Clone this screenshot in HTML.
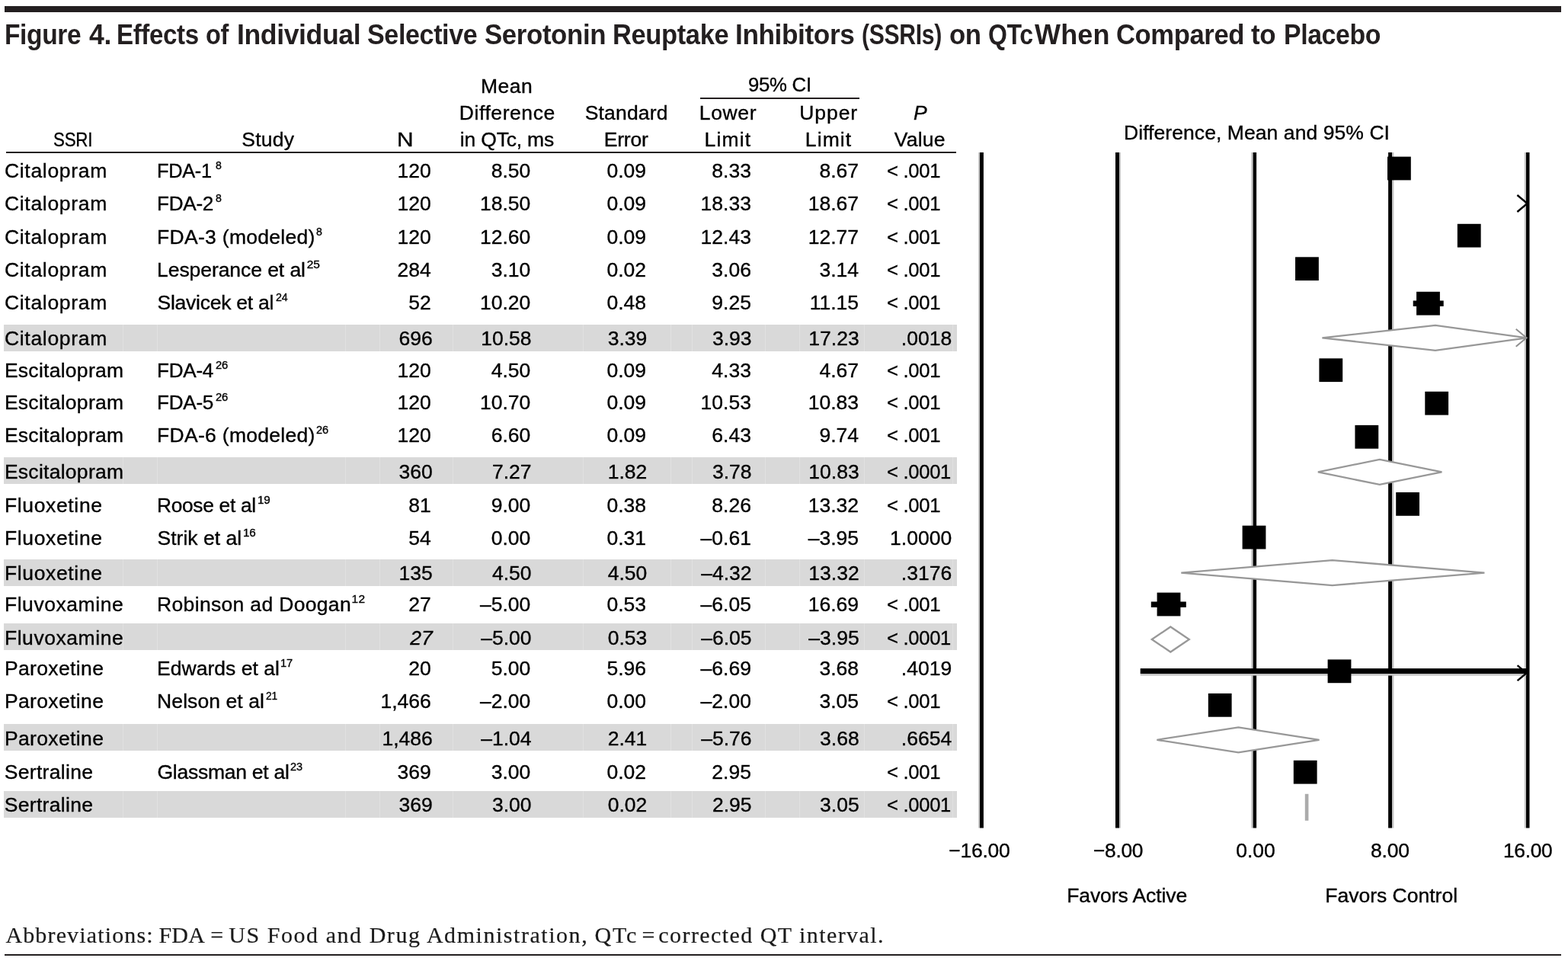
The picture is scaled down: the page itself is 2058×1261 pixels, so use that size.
<!DOCTYPE html>
<html lang="en"><head><meta charset="utf-8"><title>Figure 4</title>
<style>
html,body{margin:0;padding:0;background:#fff}
body{width:2058px;height:1261px;position:relative;overflow:hidden;font-family:"Liberation Sans",sans-serif;color:#000}
.t{position:absolute;white-space:nowrap;line-height:1;transform-origin:0 0;font-size:26.5px;-webkit-text-stroke:0.35px #000}
h1{margin:0;font-size:inherit;font-weight:inherit}
.b{font-weight:700;-webkit-text-stroke:0;color:#231f20}
.i{font-style:italic}
.f{font-family:"Liberation Serif",serif;color:#1a1a1a;-webkit-text-stroke:0.2px #1a1a1a}
.r{position:absolute}
.plot{position:absolute;left:0;top:0}
</style></head>
<body>
<svg class="plot" width="2058" height="1261" viewBox="0 0 2058 1261">
<rect x="1284.10" y="200.0" width="1.90" height="886.5" fill="#c4c4c4"/>
<rect x="1286.00" y="200.0" width="4.90" height="886.5" fill="#000"/>
<rect x="1469.00" y="200.0" width="2.00" height="886.5" fill="#c4c4c4"/>
<rect x="1464.00" y="200.0" width="5.00" height="886.5" fill="#000"/>
<rect x="1642.30" y="200.0" width="2.30" height="886.5" fill="#c4c4c4"/>
<rect x="1644.60" y="200.0" width="4.50" height="886.5" fill="#000"/>
<rect x="1827.00" y="200.0" width="2.40" height="886.5" fill="#c4c4c4"/>
<rect x="1822.10" y="200.0" width="4.90" height="886.5" fill="#000"/>
<rect x="2000.80" y="200.0" width="2.20" height="886.5" fill="#c4c4c4"/>
<rect x="2003.00" y="200.0" width="4.50" height="886.5" fill="#000"/>
<rect x="1821.00" y="205.60" width="30.8" height="30.8" fill="#000"/>
<path d="M1991.40 256.00 L2004.60 267.00 L1991.40 278.00" fill="none" stroke="#000" stroke-width="2.4"/>
<rect x="1912.84" y="293.80" width="30.8" height="30.8" fill="#000"/>
<rect x="1700.04" y="337.30" width="30.8" height="30.8" fill="#000"/>
<rect x="1854.70" y="394.50" width="40.00" height="7.4" fill="#000"/>
<rect x="1859.08" y="382.80" width="30.8" height="30.8" fill="#000"/>
<polygon points="1735.40,443.30 1883.90,426.80 2004.00,443.30 1883.90,459.80" fill="#fff" stroke="#989898" stroke-width="2.3"/>
<path d="M1989.70 431.80 L2003.50 443.30 L1989.70 454.80" fill="none" stroke="#8f8f8f" stroke-width="2.0"/>
<rect x="1731.40" y="470.30" width="30.8" height="30.8" fill="#000"/>
<rect x="1870.28" y="513.80" width="30.8" height="30.8" fill="#000"/>
<rect x="1778.44" y="557.90" width="30.8" height="30.8" fill="#000"/>
<polygon points="1729.90,619.40 1810.80,602.90 1892.40,619.40 1810.80,635.90" fill="#fff" stroke="#989898" stroke-width="2.3"/>
<rect x="1832.20" y="646.00" width="30.8" height="30.8" fill="#000"/>
<rect x="1630.60" y="689.70" width="30.8" height="30.8" fill="#000"/>
<polygon points="1550.30,751.60 1748.60,735.10 1948.40,751.60 1748.60,768.10" fill="#fff" stroke="#989898" stroke-width="2.3"/>
<rect x="1510.80" y="789.50" width="46.00" height="7.4" fill="#000"/>
<rect x="1518.60" y="777.60" width="30.8" height="30.8" fill="#000"/>
<polygon points="1511.80,839.00 1536.30,822.50 1560.80,839.00 1536.30,855.50" fill="#fff" stroke="#989898" stroke-width="2.3"/>
<rect x="1496.7" y="884.0" width="506.6" height="2.6" fill="#c4c4c4"/>
<rect x="1496.70" y="877.10" width="506.80" height="6.9" fill="#000"/>
<rect x="1742.60" y="865.40" width="30.8" height="30.8" fill="#000"/>
<path d="M1991.60 873.20 L2003.60 883.20 L1991.60 893.20" fill="none" stroke="#000" stroke-width="2.4"/>
<rect x="1585.80" y="909.90" width="30.8" height="30.8" fill="#000"/>
<polygon points="1518.40,970.80 1625.40,954.30 1731.50,970.80 1625.40,987.30" fill="#fff" stroke="#989898" stroke-width="2.3"/>
<rect x="1697.80" y="997.80" width="30.8" height="30.8" fill="#000"/>
<rect x="1712.8" y="1041.8" width="4.6" height="35.0" fill="#ababab"/>
</svg>
<div class="r" style="left:5.50px;top:8.20px;width:2043.00px;height:8.10px;background:#231f20"></div>
<div class="r" style="left:5.50px;top:1251.80px;width:2043.00px;height:2.20px;background:#231f20"></div>
<h1>
<div class="t b" style="left:6.44px;top:28.00px;font-size:36.0px;letter-spacing:-0.408px;transform:scaleX(0.9319);">Figure</div>
<div class="t b" style="left:116.70px;top:28.00px;font-size:36.0px;letter-spacing:-0.408px;transform:scaleX(0.9886);">4.</div>
<div class="t b" style="left:153.06px;top:28.00px;font-size:36.0px;letter-spacing:-0.408px;transform:scaleX(0.9199);">Effects</div>
<div class="t b" style="left:269.50px;top:28.00px;font-size:36.0px;letter-spacing:-0.408px;transform:scaleX(0.9023);">of</div>
<div class="t b" style="left:310.62px;top:28.00px;font-size:36.0px;letter-spacing:-0.408px;transform:scaleX(0.9891);">Individual</div>
<div class="t b" style="left:482.15px;top:28.00px;font-size:36.0px;letter-spacing:-0.408px;transform:scaleX(0.9468);">Selective</div>
<div class="t b" style="left:635.83px;top:28.00px;font-size:36.0px;letter-spacing:-0.408px;transform:scaleX(0.9682);">Serotonin</div>
<div class="t b" style="left:804.18px;top:28.00px;font-size:36.0px;letter-spacing:-0.408px;transform:scaleX(0.9592);">Reuptake</div>
<div class="t b" style="left:965.34px;top:28.00px;font-size:36.0px;letter-spacing:-0.408px;transform:scaleX(0.9784);">Inhibitors</div>
<div class="t b" style="left:1131.16px;top:28.00px;font-size:36.0px;letter-spacing:-0.408px;transform:scaleX(0.8383);">(SSRIs)</div>
<div class="t b" style="left:1246.03px;top:28.00px;font-size:36.0px;letter-spacing:-0.408px;transform:scaleX(0.9659);">on</div>
<div class="t b" style="left:1296.61px;top:28.00px;font-size:36.0px;letter-spacing:-0.408px;transform:scaleX(0.8883);">QTc</div>
<div class="t b" style="left:1358.10px;top:28.00px;font-size:36.0px;letter-spacing:0.103px;">When</div>
<div class="t b" style="left:1464.54px;top:28.00px;font-size:36.0px;letter-spacing:-0.408px;transform:scaleX(0.9612);">Compared</div>
<div class="t b" style="left:1642.40px;top:28.00px;font-size:36.0px;letter-spacing:-0.408px;transform:scaleX(0.9699);">to</div>
<div class="t b" style="left:1684.72px;top:28.00px;font-size:36.0px;letter-spacing:-0.408px;transform:scaleX(0.9395);">Placebo</div>
</h1>
<div class="t" style="left:70.06px;top:170.00px;letter-spacing:-0.300px;transform:scaleX(0.8439);">SSRI</div>
<div class="t" style="left:317.20px;top:170.00px;letter-spacing:0.272px;">Study</div>
<div class="t" style="left:521.05px;top:170.00px;transform:scaleX(1.1267);">N</div>
<div class="t" style="left:630.90px;top:100.00px;letter-spacing:0.550px;">Mean</div>
<div class="t" style="left:602.80px;top:135.00px;letter-spacing:0.571px;">Difference</div>
<div class="t" style="left:603.80px;top:170.00px;letter-spacing:-0.189px;">in QTc, ms</div>
<div class="t" style="left:767.70px;top:135.00px;letter-spacing:0.169px;">Standard</div>
<div class="t" style="left:792.80px;top:170.00px;letter-spacing:-0.241px;">Error</div>
<div class="t" style="left:982.33px;top:98.00px;letter-spacing:-0.300px;transform:scaleX(0.9727);">95% CI</div>
<div class="t" style="left:917.80px;top:135.00px;letter-spacing:0.637px;">Lower</div>
<div class="t" style="left:924.60px;top:170.00px;letter-spacing:1.128px;">Limit</div>
<div class="t" style="left:1049.30px;top:135.00px;letter-spacing:0.912px;">Upper</div>
<div class="t" style="left:1056.80px;top:170.00px;letter-spacing:1.103px;">Limit</div>
<div class="t i" style="left:1198.90px;top:135.00px;">P</div>
<div class="t" style="left:1173.80px;top:170.00px;letter-spacing:0.207px;">Value</div>
<div class="r" style="left:919.20px;top:128.00px;width:208.70px;height:2.10px;background:#231f20"></div>
<div class="r" style="left:8.00px;top:199.00px;width:1246.80px;height:2.30px;background:#231f20"></div>
<div class="t" style="left:5.90px;top:211.00px;letter-spacing:0.705px;">Citalopram</div>
<div class="t" style="left:206.19px;top:211.00px;letter-spacing:-0.300px;transform:scaleX(0.9570);">FDA-1</div>
<div class="t" style="left:282.50px;top:209.00px;font-size:15.5px;transform:scaleX(0.9125);">8</div>
<div class="t" style="left:521.52px;top:211.00px;">120</div>
<div class="t" style="left:644.76px;top:211.00px;">8.50</div>
<div class="t" style="left:796.46px;top:211.00px;">0.09</div>
<div class="t" style="left:934.36px;top:211.00px;">8.33</div>
<div class="t" style="left:1075.46px;top:211.00px;">8.67</div>
<div class="t" style="left:1163.83px;top:211.00px;letter-spacing:-0.300px;transform:scaleX(0.9680);">&lt; .001</div>
<div class="t" style="left:5.90px;top:254.00px;letter-spacing:0.705px;">Citalopram</div>
<div class="t" style="left:206.13px;top:254.00px;letter-spacing:-0.300px;transform:scaleX(0.9873);">FDA-2</div>
<div class="t" style="left:282.50px;top:252.00px;font-size:15.5px;transform:scaleX(0.9125);">8</div>
<div class="t" style="left:521.52px;top:254.00px;">120</div>
<div class="t" style="left:630.02px;top:254.00px;">18.50</div>
<div class="t" style="left:796.46px;top:254.00px;">0.09</div>
<div class="t" style="left:919.62px;top:254.00px;">18.33</div>
<div class="t" style="left:1060.72px;top:254.00px;">18.67</div>
<div class="t" style="left:1163.83px;top:254.00px;letter-spacing:-0.300px;transform:scaleX(0.9680);">&lt; .001</div>
<div class="t" style="left:5.90px;top:298.00px;letter-spacing:0.705px;">Citalopram</div>
<div class="t" style="left:206.10px;top:298.00px;letter-spacing:0.293px;">FDA-3 (modeled)</div>
<div class="t" style="left:414.60px;top:296.00px;font-size:15.5px;transform:scaleX(0.9125);">8</div>
<div class="t" style="left:521.52px;top:298.00px;">120</div>
<div class="t" style="left:630.02px;top:298.00px;">12.60</div>
<div class="t" style="left:796.46px;top:298.00px;">0.09</div>
<div class="t" style="left:919.62px;top:298.00px;">12.43</div>
<div class="t" style="left:1060.72px;top:298.00px;">12.77</div>
<div class="t" style="left:1163.83px;top:298.00px;letter-spacing:-0.300px;transform:scaleX(0.9680);">&lt; .001</div>
<div class="t" style="left:5.90px;top:341.00px;letter-spacing:0.705px;">Citalopram</div>
<div class="t" style="left:206.10px;top:341.00px;letter-spacing:-0.070px;">Lesperance et al</div>
<div class="t" style="left:402.70px;top:339.00px;font-size:15.5px;letter-spacing:-0.020px;">25</div>
<div class="t" style="left:521.52px;top:341.00px;">284</div>
<div class="t" style="left:644.76px;top:341.00px;">3.10</div>
<div class="t" style="left:796.46px;top:341.00px;">0.02</div>
<div class="t" style="left:934.36px;top:341.00px;">3.06</div>
<div class="t" style="left:1075.46px;top:341.00px;">3.14</div>
<div class="t" style="left:1163.83px;top:341.00px;letter-spacing:-0.300px;transform:scaleX(0.9680);">&lt; .001</div>
<div class="t" style="left:5.90px;top:384.00px;letter-spacing:0.705px;">Citalopram</div>
<div class="t" style="left:206.50px;top:384.00px;letter-spacing:-0.242px;">Slavicek et al</div>
<div class="t" style="left:361.80px;top:382.00px;font-size:15.5px;letter-spacing:-0.175px;transform:scaleX(0.9229);">24</div>
<div class="t" style="left:536.26px;top:384.00px;">52</div>
<div class="t" style="left:630.02px;top:384.00px;">10.20</div>
<div class="t" style="left:796.46px;top:384.00px;">0.48</div>
<div class="t" style="left:934.36px;top:384.00px;">9.25</div>
<div class="t" style="left:1062.69px;top:384.00px;">11.15</div>
<div class="t" style="left:1163.83px;top:384.00px;letter-spacing:-0.300px;transform:scaleX(0.9680);">&lt; .001</div>
<div class="r" style="left:5.30px;top:426.10px;width:1251.10px;height:35.00px;background:#d9d9d9"></div>
<div class="r" style="left:160.80px;top:426.10px;width:1.00px;height:35.00px;background:#e1e1e1"></div>
<div class="r" style="left:205.90px;top:426.10px;width:1.00px;height:35.00px;background:#e1e1e1"></div>
<div class="r" style="left:452.80px;top:426.10px;width:1.00px;height:35.00px;background:#e1e1e1"></div>
<div class="r" style="left:497.90px;top:426.10px;width:1.00px;height:35.00px;background:#e1e1e1"></div>
<div class="r" style="left:594.00px;top:426.10px;width:1.00px;height:35.00px;background:#e1e1e1"></div>
<div class="r" style="left:764.80px;top:426.10px;width:1.00px;height:35.00px;background:#e1e1e1"></div>
<div class="r" style="left:880.00px;top:426.10px;width:1.00px;height:35.00px;background:#e1e1e1"></div>
<div class="r" style="left:907.80px;top:426.10px;width:1.00px;height:35.00px;background:#e1e1e1"></div>
<div class="r" style="left:1003.60px;top:426.10px;width:1.00px;height:35.00px;background:#e1e1e1"></div>
<div class="r" style="left:1049.10px;top:426.10px;width:1.00px;height:35.00px;background:#e1e1e1"></div>
<div class="r" style="left:1134.00px;top:426.10px;width:1.00px;height:35.00px;background:#e1e1e1"></div>
<div class="r" style="left:1250.10px;top:426.10px;width:1.00px;height:35.00px;background:#e1e1e1"></div>
<div class="t" style="left:5.90px;top:431.00px;letter-spacing:0.705px;">Citalopram</div>
<div class="t" style="left:523.52px;top:431.00px;">696</div>
<div class="t" style="left:631.22px;top:431.00px;">10.58</div>
<div class="t" style="left:797.66px;top:431.00px;">3.39</div>
<div class="t" style="left:934.96px;top:431.00px;">3.93</div>
<div class="t" style="left:1061.32px;top:431.00px;">17.23</div>
<div class="t" style="left:1182.82px;top:431.00px;">.0018</div>
<div class="t" style="left:5.90px;top:473.00px;letter-spacing:0.274px;">Escitalopram</div>
<div class="t" style="left:206.13px;top:473.00px;letter-spacing:-0.300px;transform:scaleX(0.9873);">FDA-4</div>
<div class="t" style="left:282.50px;top:471.00px;font-size:15.5px;letter-spacing:-0.175px;transform:scaleX(0.9547);">26</div>
<div class="t" style="left:521.52px;top:473.00px;">120</div>
<div class="t" style="left:644.76px;top:473.00px;">4.50</div>
<div class="t" style="left:796.46px;top:473.00px;">0.09</div>
<div class="t" style="left:934.36px;top:473.00px;">4.33</div>
<div class="t" style="left:1075.46px;top:473.00px;">4.67</div>
<div class="t" style="left:1163.83px;top:473.00px;letter-spacing:-0.300px;transform:scaleX(0.9680);">&lt; .001</div>
<div class="t" style="left:5.90px;top:515.00px;letter-spacing:0.274px;">Escitalopram</div>
<div class="t" style="left:206.13px;top:515.00px;letter-spacing:-0.300px;transform:scaleX(0.9873);">FDA-5</div>
<div class="t" style="left:282.50px;top:513.00px;font-size:15.5px;letter-spacing:-0.175px;transform:scaleX(0.9547);">26</div>
<div class="t" style="left:521.52px;top:515.00px;">120</div>
<div class="t" style="left:630.02px;top:515.00px;">10.70</div>
<div class="t" style="left:796.46px;top:515.00px;">0.09</div>
<div class="t" style="left:919.62px;top:515.00px;">10.53</div>
<div class="t" style="left:1060.72px;top:515.00px;">10.83</div>
<div class="t" style="left:1163.83px;top:515.00px;letter-spacing:-0.300px;transform:scaleX(0.9680);">&lt; .001</div>
<div class="t" style="left:5.90px;top:558.00px;letter-spacing:0.274px;">Escitalopram</div>
<div class="t" style="left:206.10px;top:558.00px;letter-spacing:0.293px;">FDA-6 (modeled)</div>
<div class="t" style="left:414.60px;top:556.00px;font-size:15.5px;letter-spacing:-0.175px;transform:scaleX(0.9425);">26</div>
<div class="t" style="left:521.52px;top:558.00px;">120</div>
<div class="t" style="left:644.76px;top:558.00px;">6.60</div>
<div class="t" style="left:796.46px;top:558.00px;">0.09</div>
<div class="t" style="left:934.36px;top:558.00px;">6.43</div>
<div class="t" style="left:1075.46px;top:558.00px;">9.74</div>
<div class="t" style="left:1163.83px;top:558.00px;letter-spacing:-0.300px;transform:scaleX(0.9680);">&lt; .001</div>
<div class="r" style="left:5.30px;top:600.40px;width:1251.10px;height:34.70px;background:#d9d9d9"></div>
<div class="r" style="left:160.80px;top:600.40px;width:1.00px;height:34.70px;background:#e1e1e1"></div>
<div class="r" style="left:205.90px;top:600.40px;width:1.00px;height:34.70px;background:#e1e1e1"></div>
<div class="r" style="left:452.80px;top:600.40px;width:1.00px;height:34.70px;background:#e1e1e1"></div>
<div class="r" style="left:497.90px;top:600.40px;width:1.00px;height:34.70px;background:#e1e1e1"></div>
<div class="r" style="left:594.00px;top:600.40px;width:1.00px;height:34.70px;background:#e1e1e1"></div>
<div class="r" style="left:764.80px;top:600.40px;width:1.00px;height:34.70px;background:#e1e1e1"></div>
<div class="r" style="left:880.00px;top:600.40px;width:1.00px;height:34.70px;background:#e1e1e1"></div>
<div class="r" style="left:907.80px;top:600.40px;width:1.00px;height:34.70px;background:#e1e1e1"></div>
<div class="r" style="left:1003.60px;top:600.40px;width:1.00px;height:34.70px;background:#e1e1e1"></div>
<div class="r" style="left:1049.10px;top:600.40px;width:1.00px;height:34.70px;background:#e1e1e1"></div>
<div class="r" style="left:1134.00px;top:600.40px;width:1.00px;height:34.70px;background:#e1e1e1"></div>
<div class="r" style="left:1250.10px;top:600.40px;width:1.00px;height:34.70px;background:#e1e1e1"></div>
<div class="t" style="left:5.90px;top:606.00px;letter-spacing:0.274px;">Escitalopram</div>
<div class="t" style="left:523.52px;top:606.00px;">360</div>
<div class="t" style="left:645.96px;top:606.00px;">7.27</div>
<div class="t" style="left:797.66px;top:606.00px;">1.82</div>
<div class="t" style="left:934.96px;top:606.00px;">3.78</div>
<div class="t" style="left:1061.32px;top:606.00px;">10.83</div>
<div class="t" style="left:1163.84px;top:606.00px;letter-spacing:-0.300px;transform:scaleX(0.9648);">&lt; .0001</div>
<div class="t" style="left:5.90px;top:650.00px;letter-spacing:0.653px;">Fluoxetine</div>
<div class="t" style="left:206.12px;top:650.00px;letter-spacing:-0.300px;transform:scaleX(0.9925);">Roose et al</div>
<div class="t" style="left:338.02px;top:648.00px;font-size:15.5px;letter-spacing:-0.175px;transform:scaleX(0.9841);">19</div>
<div class="t" style="left:536.26px;top:650.00px;">81</div>
<div class="t" style="left:644.76px;top:650.00px;">9.00</div>
<div class="t" style="left:796.46px;top:650.00px;">0.38</div>
<div class="t" style="left:934.36px;top:650.00px;">8.26</div>
<div class="t" style="left:1060.72px;top:650.00px;">13.32</div>
<div class="t" style="left:1163.83px;top:650.00px;letter-spacing:-0.300px;transform:scaleX(0.9680);">&lt; .001</div>
<div class="t" style="left:5.90px;top:693.00px;letter-spacing:0.653px;">Fluoxetine</div>
<div class="t" style="left:206.50px;top:693.00px;letter-spacing:0.024px;">Strik et al</div>
<div class="t" style="left:318.52px;top:691.00px;font-size:15.5px;letter-spacing:-0.175px;transform:scaleX(0.9841);">16</div>
<div class="t" style="left:536.26px;top:693.00px;">54</div>
<div class="t" style="left:644.76px;top:693.00px;">0.00</div>
<div class="t" style="left:796.46px;top:693.00px;">0.31</div>
<div class="t" style="left:919.62px;top:693.00px;">–0.61</div>
<div class="t" style="left:1060.72px;top:693.00px;">–3.95</div>
<div class="t" style="left:1168.09px;top:693.00px;">1.0000</div>
<div class="r" style="left:5.30px;top:734.20px;width:1251.10px;height:35.00px;background:#d9d9d9"></div>
<div class="r" style="left:160.80px;top:734.20px;width:1.00px;height:35.00px;background:#e1e1e1"></div>
<div class="r" style="left:205.90px;top:734.20px;width:1.00px;height:35.00px;background:#e1e1e1"></div>
<div class="r" style="left:452.80px;top:734.20px;width:1.00px;height:35.00px;background:#e1e1e1"></div>
<div class="r" style="left:497.90px;top:734.20px;width:1.00px;height:35.00px;background:#e1e1e1"></div>
<div class="r" style="left:594.00px;top:734.20px;width:1.00px;height:35.00px;background:#e1e1e1"></div>
<div class="r" style="left:764.80px;top:734.20px;width:1.00px;height:35.00px;background:#e1e1e1"></div>
<div class="r" style="left:880.00px;top:734.20px;width:1.00px;height:35.00px;background:#e1e1e1"></div>
<div class="r" style="left:907.80px;top:734.20px;width:1.00px;height:35.00px;background:#e1e1e1"></div>
<div class="r" style="left:1003.60px;top:734.20px;width:1.00px;height:35.00px;background:#e1e1e1"></div>
<div class="r" style="left:1049.10px;top:734.20px;width:1.00px;height:35.00px;background:#e1e1e1"></div>
<div class="r" style="left:1134.00px;top:734.20px;width:1.00px;height:35.00px;background:#e1e1e1"></div>
<div class="r" style="left:1250.10px;top:734.20px;width:1.00px;height:35.00px;background:#e1e1e1"></div>
<div class="t" style="left:5.90px;top:739.00px;letter-spacing:0.653px;">Fluoxetine</div>
<div class="t" style="left:523.52px;top:739.00px;">135</div>
<div class="t" style="left:645.96px;top:739.00px;">4.50</div>
<div class="t" style="left:797.66px;top:739.00px;">4.50</div>
<div class="t" style="left:920.22px;top:739.00px;">–4.32</div>
<div class="t" style="left:1061.32px;top:739.00px;">13.32</div>
<div class="t" style="left:1182.82px;top:739.00px;">.3176</div>
<div class="t" style="left:5.90px;top:780.00px;letter-spacing:0.561px;">Fluvoxamine</div>
<div class="t" style="left:206.10px;top:780.00px;letter-spacing:0.326px;">Robinson ad Doogan</div>
<div class="t" style="left:461.50px;top:778.00px;font-size:15.5px;letter-spacing:0.480px;">12</div>
<div class="t" style="left:536.26px;top:780.00px;">27</div>
<div class="t" style="left:630.02px;top:780.00px;">–5.00</div>
<div class="t" style="left:796.46px;top:780.00px;">0.53</div>
<div class="t" style="left:919.62px;top:780.00px;">–6.05</div>
<div class="t" style="left:1060.72px;top:780.00px;">16.69</div>
<div class="t" style="left:1163.83px;top:780.00px;letter-spacing:-0.300px;transform:scaleX(0.9680);">&lt; .001</div>
<div class="r" style="left:5.30px;top:818.00px;width:1251.10px;height:34.70px;background:#d9d9d9"></div>
<div class="r" style="left:160.80px;top:818.00px;width:1.00px;height:34.70px;background:#e1e1e1"></div>
<div class="r" style="left:205.90px;top:818.00px;width:1.00px;height:34.70px;background:#e1e1e1"></div>
<div class="r" style="left:452.80px;top:818.00px;width:1.00px;height:34.70px;background:#e1e1e1"></div>
<div class="r" style="left:497.90px;top:818.00px;width:1.00px;height:34.70px;background:#e1e1e1"></div>
<div class="r" style="left:594.00px;top:818.00px;width:1.00px;height:34.70px;background:#e1e1e1"></div>
<div class="r" style="left:764.80px;top:818.00px;width:1.00px;height:34.70px;background:#e1e1e1"></div>
<div class="r" style="left:880.00px;top:818.00px;width:1.00px;height:34.70px;background:#e1e1e1"></div>
<div class="r" style="left:907.80px;top:818.00px;width:1.00px;height:34.70px;background:#e1e1e1"></div>
<div class="r" style="left:1003.60px;top:818.00px;width:1.00px;height:34.70px;background:#e1e1e1"></div>
<div class="r" style="left:1049.10px;top:818.00px;width:1.00px;height:34.70px;background:#e1e1e1"></div>
<div class="r" style="left:1134.00px;top:818.00px;width:1.00px;height:34.70px;background:#e1e1e1"></div>
<div class="r" style="left:1250.10px;top:818.00px;width:1.00px;height:34.70px;background:#e1e1e1"></div>
<div class="t" style="left:5.90px;top:824.00px;letter-spacing:0.561px;">Fluvoxamine</div>
<div class="t i" style="left:538.26px;top:824.00px;">27</div>
<div class="t" style="left:631.22px;top:824.00px;">–5.00</div>
<div class="t" style="left:797.66px;top:824.00px;">0.53</div>
<div class="t" style="left:920.22px;top:824.00px;">–6.05</div>
<div class="t" style="left:1061.32px;top:824.00px;">–3.95</div>
<div class="t" style="left:1163.84px;top:824.00px;letter-spacing:-0.300px;transform:scaleX(0.9648);">&lt; .0001</div>
<div class="t" style="left:5.90px;top:864.00px;letter-spacing:0.372px;">Paroxetine</div>
<div class="t" style="left:206.10px;top:864.00px;letter-spacing:0.011px;">Edwards et al</div>
<div class="t" style="left:368.15px;top:862.00px;font-size:15.5px;letter-spacing:-0.175px;transform:scaleX(0.9453);">17</div>
<div class="t" style="left:536.26px;top:864.00px;">20</div>
<div class="t" style="left:644.76px;top:864.00px;">5.00</div>
<div class="t" style="left:796.46px;top:864.00px;">5.96</div>
<div class="t" style="left:919.62px;top:864.00px;">–6.69</div>
<div class="t" style="left:1075.46px;top:864.00px;">3.68</div>
<div class="t" style="left:1182.82px;top:864.00px;">.4019</div>
<div class="t" style="left:5.90px;top:907.00px;letter-spacing:0.372px;">Paroxetine</div>
<div class="t" style="left:206.10px;top:907.00px;letter-spacing:0.086px;">Nelson et al</div>
<div class="t" style="left:348.70px;top:905.00px;font-size:15.5px;letter-spacing:-0.175px;transform:scaleX(0.8878);">21</div>
<div class="t" style="left:499.42px;top:907.00px;">1,466</div>
<div class="t" style="left:630.02px;top:907.00px;">–2.00</div>
<div class="t" style="left:796.46px;top:907.00px;">0.00</div>
<div class="t" style="left:919.62px;top:907.00px;">–2.00</div>
<div class="t" style="left:1075.46px;top:907.00px;">3.05</div>
<div class="t" style="left:1163.83px;top:907.00px;letter-spacing:-0.300px;transform:scaleX(0.9680);">&lt; .001</div>
<div class="r" style="left:5.30px;top:950.40px;width:1251.10px;height:34.60px;background:#d9d9d9"></div>
<div class="r" style="left:160.80px;top:950.40px;width:1.00px;height:34.60px;background:#e1e1e1"></div>
<div class="r" style="left:205.90px;top:950.40px;width:1.00px;height:34.60px;background:#e1e1e1"></div>
<div class="r" style="left:452.80px;top:950.40px;width:1.00px;height:34.60px;background:#e1e1e1"></div>
<div class="r" style="left:497.90px;top:950.40px;width:1.00px;height:34.60px;background:#e1e1e1"></div>
<div class="r" style="left:594.00px;top:950.40px;width:1.00px;height:34.60px;background:#e1e1e1"></div>
<div class="r" style="left:764.80px;top:950.40px;width:1.00px;height:34.60px;background:#e1e1e1"></div>
<div class="r" style="left:880.00px;top:950.40px;width:1.00px;height:34.60px;background:#e1e1e1"></div>
<div class="r" style="left:907.80px;top:950.40px;width:1.00px;height:34.60px;background:#e1e1e1"></div>
<div class="r" style="left:1003.60px;top:950.40px;width:1.00px;height:34.60px;background:#e1e1e1"></div>
<div class="r" style="left:1049.10px;top:950.40px;width:1.00px;height:34.60px;background:#e1e1e1"></div>
<div class="r" style="left:1134.00px;top:950.40px;width:1.00px;height:34.60px;background:#e1e1e1"></div>
<div class="r" style="left:1250.10px;top:950.40px;width:1.00px;height:34.60px;background:#e1e1e1"></div>
<div class="t" style="left:5.90px;top:956.00px;letter-spacing:0.372px;">Paroxetine</div>
<div class="t" style="left:501.42px;top:956.00px;">1,486</div>
<div class="t" style="left:631.22px;top:956.00px;">–1.04</div>
<div class="t" style="left:797.66px;top:956.00px;">2.41</div>
<div class="t" style="left:920.22px;top:956.00px;">–5.76</div>
<div class="t" style="left:1076.06px;top:956.00px;">3.68</div>
<div class="t" style="left:1182.82px;top:956.00px;">.6654</div>
<div class="t" style="left:5.80px;top:1000.00px;letter-spacing:0.303px;">Sertraline</div>
<div class="t" style="left:206.50px;top:1000.00px;letter-spacing:-0.258px;">Glassman et al</div>
<div class="t" style="left:381.40px;top:998.00px;font-size:15.5px;letter-spacing:-0.175px;transform:scaleX(0.9365);">23</div>
<div class="t" style="left:521.52px;top:1000.00px;">369</div>
<div class="t" style="left:644.76px;top:1000.00px;">3.00</div>
<div class="t" style="left:796.46px;top:1000.00px;">0.02</div>
<div class="t" style="left:934.36px;top:1000.00px;">2.95</div>
<div class="t" style="left:1163.83px;top:1000.00px;letter-spacing:-0.300px;transform:scaleX(0.9680);">&lt; .001</div>
<div class="r" style="left:5.30px;top:1038.10px;width:1251.10px;height:34.70px;background:#d9d9d9"></div>
<div class="r" style="left:160.80px;top:1038.10px;width:1.00px;height:34.70px;background:#e1e1e1"></div>
<div class="r" style="left:205.90px;top:1038.10px;width:1.00px;height:34.70px;background:#e1e1e1"></div>
<div class="r" style="left:452.80px;top:1038.10px;width:1.00px;height:34.70px;background:#e1e1e1"></div>
<div class="r" style="left:497.90px;top:1038.10px;width:1.00px;height:34.70px;background:#e1e1e1"></div>
<div class="r" style="left:594.00px;top:1038.10px;width:1.00px;height:34.70px;background:#e1e1e1"></div>
<div class="r" style="left:764.80px;top:1038.10px;width:1.00px;height:34.70px;background:#e1e1e1"></div>
<div class="r" style="left:880.00px;top:1038.10px;width:1.00px;height:34.70px;background:#e1e1e1"></div>
<div class="r" style="left:907.80px;top:1038.10px;width:1.00px;height:34.70px;background:#e1e1e1"></div>
<div class="r" style="left:1003.60px;top:1038.10px;width:1.00px;height:34.70px;background:#e1e1e1"></div>
<div class="r" style="left:1049.10px;top:1038.10px;width:1.00px;height:34.70px;background:#e1e1e1"></div>
<div class="r" style="left:1134.00px;top:1038.10px;width:1.00px;height:34.70px;background:#e1e1e1"></div>
<div class="r" style="left:1250.10px;top:1038.10px;width:1.00px;height:34.70px;background:#e1e1e1"></div>
<div class="t" style="left:5.80px;top:1043.00px;letter-spacing:0.303px;">Sertraline</div>
<div class="t" style="left:523.52px;top:1043.00px;">369</div>
<div class="t" style="left:645.96px;top:1043.00px;">3.00</div>
<div class="t" style="left:797.66px;top:1043.00px;">0.02</div>
<div class="t" style="left:934.96px;top:1043.00px;">2.95</div>
<div class="t" style="left:1076.06px;top:1043.00px;">3.05</div>
<div class="t" style="left:1163.84px;top:1043.00px;letter-spacing:-0.300px;transform:scaleX(0.9648);">&lt; .0001</div>
<div class="foot">
<div class="t f" style="left:7.40px;top:1212.00px;font-size:30px;letter-spacing:1.149px;">Abbreviations:</div>
<div class="t f" style="left:208.40px;top:1212.00px;font-size:30px;letter-spacing:0.225px;">FDA</div>
<div class="t f" style="left:276.25px;top:1212.00px;font-size:30px;">=</div>
<div class="t f" style="left:300.30px;top:1212.00px;font-size:30px;letter-spacing:1.543px;">US Food and Drug Administration,</div>
<div class="t f" style="left:780.60px;top:1212.00px;font-size:30px;letter-spacing:1.802px;">QTc</div>
<div class="t f" style="left:842.45px;top:1212.00px;font-size:30px;">=</div>
<div class="t f" style="left:864.30px;top:1212.00px;font-size:30px;letter-spacing:1.434px;">corrected QT interval.</div>
</div>
<div class="t" style="left:1475.00px;top:161.00px;letter-spacing:0.070px;">Difference, Mean and 95% CI</div>
<div class="t" style="left:1245.20px;top:1103.00px;letter-spacing:-0.230px;">−16.00</div>
<div class="t" style="left:1435.00px;top:1103.00px;letter-spacing:-0.300px;transform:scaleX(0.9951);">−8.00</div>
<div class="t" style="left:1622.20px;top:1103.00px;letter-spacing:-0.046px;">0.00</div>
<div class="t" style="left:1798.90px;top:1103.00px;letter-spacing:-0.180px;">8.00</div>
<div class="t" style="left:1972.61px;top:1103.00px;letter-spacing:-0.300px;transform:scaleX(0.9940);">16.00</div>
<div class="t" style="left:1400.20px;top:1162.00px;letter-spacing:-0.081px;">Favors Active</div>
<div class="t" style="left:1739.20px;top:1162.00px;letter-spacing:0.009px;">Favors Control</div>
</body></html>
